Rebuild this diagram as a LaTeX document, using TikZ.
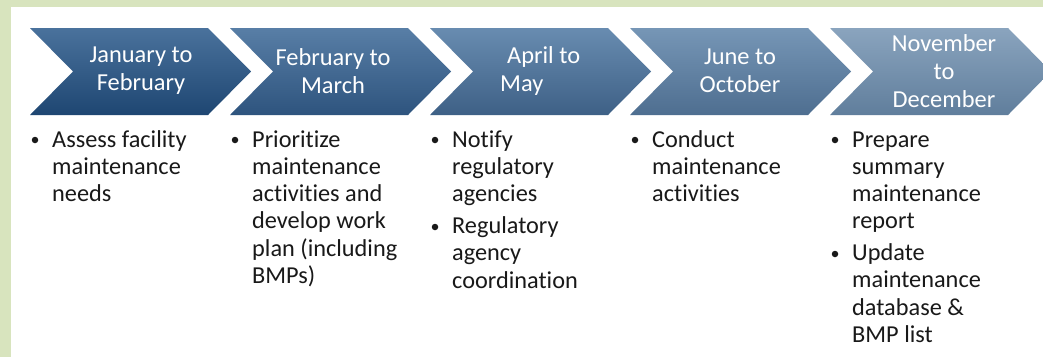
\documentclass[tikz,border=0pt]{standalone}
\usepackage{fontspec}
\setmainfont{Carlito}[Ligatures={NoCommon,TeX}]
\definecolor{bggreen}{RGB}{216,228,190}
\definecolor{ctA}{RGB}{74,114,156}
\definecolor{cbA}{RGB}{30,70,114}
\definecolor{ctB}{RGB}{88,126,166}
\definecolor{cbB}{RGB}{46,84,126}
\definecolor{ctC}{RGB}{104,140,176}
\definecolor{cbC}{RGB}{62,96,134}
\definecolor{ctD}{RGB}{118,150,182}
\definecolor{cbD}{RGB}{78,110,144}
\definecolor{ctE}{RGB}{138,164,190}
\definecolor{cbE}{RGB}{96,126,156}
\tikzset{
  hdr/.style={text=white, align=center, inner sep=0pt, font=\fontsize{24.4}{28}\selectfont},
  bul/.style={anchor=base west, inner sep=0pt, text=black!90, font=\fontsize{24.3}{27.3}\selectfont},
  dot/.style={circle, fill=black!90, inner sep=0pt, minimum size=6.5pt}
}
\newcommand\chev[3]{%
  \shade[top color=#2, bottom color=#3] (#1,28) -- ++(178,0) -- ++(43,43.5) -- ++(-43,43.5) -- ++(-178,0) -- ++(43,-43.5) -- cycle;}
\newcommand\linesat[4]{%
  \foreach \t [count=\k] in {#4} \node[bul] (#1-\k) at (#2, #3+27.3*\k-27.3) {\t};}
\begin{document}
\begin{tikzpicture}[x=1pt,y=-1pt]
\useasboundingbox (0,0) rectangle (1043,357);
\fill[bggreen] (0,0) rectangle (1043,357);
\fill[white] (11,7) rectangle (1043,357);
% chevrons
\chev{30}{ctA}{cbA}
\chev{230}{ctB}{cbB}
\chev{430}{ctC}{cbC}
\chev{630}{ctD}{cbD}
\chev{830}{ctE}{cbE}
% headers
\node[hdr] (h1) at (141,71) {January to\\February};
\node[hdr] (h2) at (333,71) {February to\\March};
\node[hdr, align=left, anchor=west] (h3) at (500,71) {\hspace*{7pt}April to\\May};
\node[hdr] (h4) at (740,71) {June to\\October};
\node[hdr] (h5) at (944,71) {November\\to\\December};
% bullets
\node[dot] (d1) at (35,140) {};
\node[dot] (d2) at (235,140) {};
\node[dot] (d3) at (435,140) {};
\node[dot] (d3b) at (435,227) {};
\node[dot] (d4) at (635,140) {};
\node[dot] (d5) at (835,140) {};
\node[dot] (d5b) at (835,254) {};
% texts
\linesat{t1}{52}{147}{Assess facility, maintenance, needs}
\linesat{t2}{252}{147}{Prioritize, maintenance, activities and, develop work, plan (including, BMPs)}
\linesat{t3}{452}{147}{Notify, regulatory, agencies}
\linesat{t3b}{452}{233.6}{Regulatory, agency, coordination}
\linesat{t4}{652}{147}{Conduct, maintenance, activities}
\linesat{t5}{852}{147}{Prepare, summary, maintenance, report}
\linesat{t5b}{852}{260.5}{Update, maintenance, database \&, BMP list}
\end{tikzpicture}
\end{document}
